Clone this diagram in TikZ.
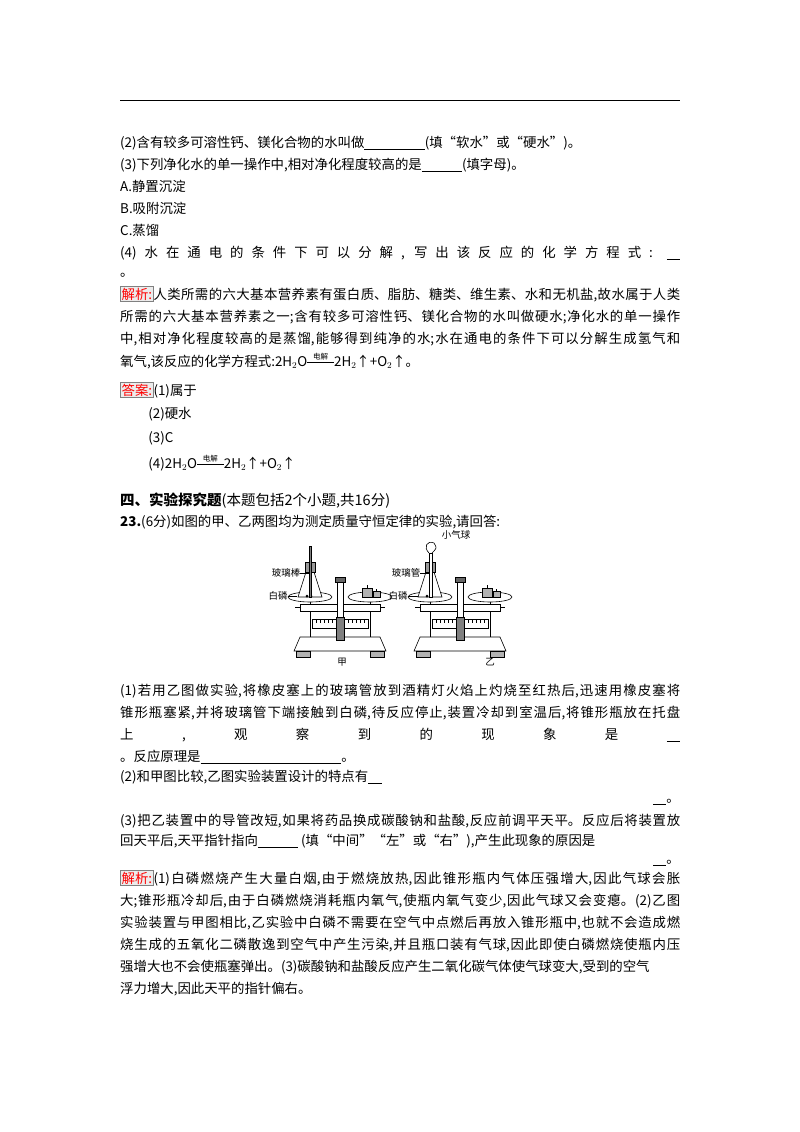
\documentclass[tikz,border=0pt]{standalone}
\usepackage{amsmath}
\usepackage{fontspec}
\setmainfont{Liberation Serif}
\newfontfamily\cjk{Noto Sans CJK SC}
\XeTeXlinebreaklocale "zh"
\XeTeXlinebreakskip=0pt plus 3pt
\newcommand\LL[2]{\node[anchor=base west,inner sep=0pt] at (120,#1) {\cjk\fontsize{13.4}{14}\selectfont #2};}
\newcommand\LJ[2]{\node[anchor=base west,inner sep=0pt] at (120,#1) {\parbox[b]{560pt}{\cjk\fontsize{13.4}{14}\selectfont\parfillskip=0pt\parindent=0pt #2\par}};}
\newcommand\labtag[1]{{\setlength\fboxsep{1pt}\fcolorbox{gray}{gray!15}{\textcolor{red}{#1}}}}
\newcommand\ul[1]{\underline{\hspace{#1}}}
\newcommand\dianjie{\mathrel{\overset{\text{\fontsize{7.5}{8}\selectfont\cjk 电解}}{\rule[0.25em]{2em}{0.4pt}}}}
\newcommand\drawbal[2]{%
\begin{scope}[xshift=#1pt, line width=0.6pt]
 \draw[fill=white] (-46,651)--(-40,637)--(40,637)--(46,651)--cycle;
 \draw[fill=black!30] (-44,651) rectangle (-30,657) (30,651) rectangle (44,657);
 \draw (-30,637)--(-30,598) (30,637)--(30,598);
 \draw[fill=white] (-40,604) rectangle (40,611);
 \draw (-45,607)--(-40,607) (40,607)--(45,607);
 \draw[fill=white] (-28,619) rectangle (28,628);
 \foreach \t in {-24,-20,...,24}{\draw (\t,619)--(\t,623);}
 \draw[fill=black!50] (-4,617) rectangle (4,640);
 \draw[fill=white] (-3,582) rectangle (3,617);
 \draw[fill=black!60] (-5,577) rectangle (5,582);
 \draw[fill=white] (-30,597) ellipse (22 and 5);
 \draw[fill=white] (30,597) ellipse (22 and 5);
 \draw[fill=white] (-42,597)--(-34,572)--(-26,572)--(-18,597)--cycle;
 \draw[fill=black!40] (-35,562) rectangle (-25,572);
 \fill (-33,596) circle (1.5) (-29,596) circle (1.5);
 \draw[fill=black!30] (22,588) rectangle (32,597) (33,591) rectangle (40,597);
 \draw (27,588)--(27,585) (36,591)--(36,589);
 #2
\end{scope}}
\begin{document}
\begin{tikzpicture}[x=1pt,y=-1pt]
\useasboundingbox (0,0) rectangle (800,1132);
\fill[white] (0,0) rectangle (800,1132);
\draw[line width=0.8pt] (120,100)--(680,100);
\LL{147}{(2)含有较多可溶性钙、镁化合物的水叫做\ul{4.5em}(填“软水”或“硬水”)。}
\LL{169}{(3)下列净化水的单一操作中,相对净化程度较高的是\ul{3em}(填字母)。}
\LL{191}{A.静置沉淀}
\LL{213}{B.吸附沉淀}
\LL{235}{C.蒸馏}
\LJ{257}{(4) 水 在 通 电 的 条 件 下 可 以 分 解 , 写 出 该 反 应 的 化 学 方 程 式 : \ul{1em}}
\LL{276}{。}
\LJ{299}{\labtag{解析:}人类所需的六大基本营养素有蛋白质、脂肪、糖类、维生素、水和无机盐,故水属于人类}
\LJ{321}{所需的六大基本营养素之一;含有较多可溶性钙、镁化合物的水叫做硬水;净化水的单一操作}
\LJ{343}{中,相对净化程度较高的是蒸馏,能够得到纯净的水;水在通电的条件下可以分解生成氢气和}
\LL{366}{氧气,该反应的化学方程式:2H$_2$O$\dianjie$2H$_2$↑+O$_2$↑。}
\LL{395}{\labtag{答案:}(1)属于}
\LL{418}{\hspace{2.1em}(2)硬水}
\LL{442}{\hspace{2.1em}(3)C}
\LL{468}{\hspace{2.1em}(4)2H$_2$O$\dianjie$2H$_2$↑+O$_2$↑}
\node[anchor=base west,inner sep=0pt] at (120,505) {\cjk\bfseries\fontsize{14.5}{16}\selectfont 四、实验探究题\mdseries(本题包括2个小题,共16分)};
\LL{526}{\textbf{23.}(6分)如图的甲、乙两图均为测定质量守恒定律的实验,请回答:}
% figure
\drawbal{340}{\draw[fill=black!50] (-31,546) rectangle (-29,597);}
\drawbal{460}{\draw[fill=white] (-31,553) rectangle (-28,597);
 \draw (-31,553) .. controls (-37,547) and (-33,540) .. (-26,543) .. controls (-23,548) .. (-28,553);}
\node[inner sep=0pt] (l1) at (286,573) {\cjk\fontsize{9.5}{10}\selectfont 玻璃棒};
\node[inner sep=0pt] (l2) at (278,596) {\cjk\fontsize{9.5}{10}\selectfont 白磷};
\node[inner sep=0pt] (l3) at (406,573) {\cjk\fontsize{9.5}{10}\selectfont 玻璃管};
\node[inner sep=0pt] (l4) at (398,596) {\cjk\fontsize{9.5}{10}\selectfont 白磷};
\node[inner sep=0pt] (l5) at (456,535) {\cjk\fontsize{9.5}{10}\selectfont 小气球};
\node[inner sep=0pt] at (342,662) {\cjk\fontsize{9.5}{10}\selectfont 甲};
\node[inner sep=0pt] at (490,662) {\cjk\fontsize{9.5}{10}\selectfont 乙};
\draw (l1.east)--(309,573) (l2.east)--(297,596) (l3.east)--(429,573) (l4.east)--(418,596);
\LJ{695}{(1)若用乙图做实验,将橡皮塞上的玻璃管放到酒精灯火焰上灼烧至红热后,迅速用橡皮塞将}
\LJ{717}{锥形瓶塞紧,并将玻璃管下端接触到白磷,待反应停止,装置冷却到室温后,将锥形瓶放在托盘}
\LL{739}{\hbox to 560pt{上\hfill,\hfill 观\hfill 察\hfill 到\hfill 的\hfill 现\hfill 象\hfill 是\hfill\ul{1em}}}
\LL{761}{。反应原理是\ul{10.5em}。}
\LL{781}{(2)和甲图比较,乙图实验装置设计的特点有\ul{1em}}
\node[anchor=base east,inner sep=0pt] at (680,802) {\cjk\fontsize{13.4}{14}\selectfont\ul{1em}。};
\LJ{825}{(3)把乙装置中的导管改短,如果将药品换成碳酸钠和盐酸,反应前调平天平。反应后将装置放}
\LL{845}{回天平后,天平指针指向\ul{3em} (填“中间”“左”或“右”),产生此现象的原因是}
\node[anchor=base east,inner sep=0pt] at (680,863) {\cjk\fontsize{13.4}{14}\selectfont\ul{1em}。};
\LJ{883}{\labtag{解析:}(1)白磷燃烧产生大量白烟,由于燃烧放热,因此锥形瓶内气体压强增大,因此气球会胀}
\LJ{905}{大;锥形瓶冷却后,由于白磷燃烧消耗瓶内氧气,使瓶内氧气变少,因此气球又会变瘪。(2)乙图}
\LJ{927}{实验装置与甲图相比,乙实验中白磷不需要在空气中点燃后再放入锥形瓶中,也就不会造成燃}
\LJ{949}{烧生成的五氧化二磷散逸到空气中产生污染,并且瓶口装有气球,因此即使白磷燃烧使瓶内压}
\LL{971}{强增大也不会使瓶塞弹出。(3)碳酸钠和盐酸反应产生二氧化碳气体使气球变大,受到的空气}
\LL{993}{浮力增大,因此天平的指针偏右。}
\end{tikzpicture}
\end{document}
